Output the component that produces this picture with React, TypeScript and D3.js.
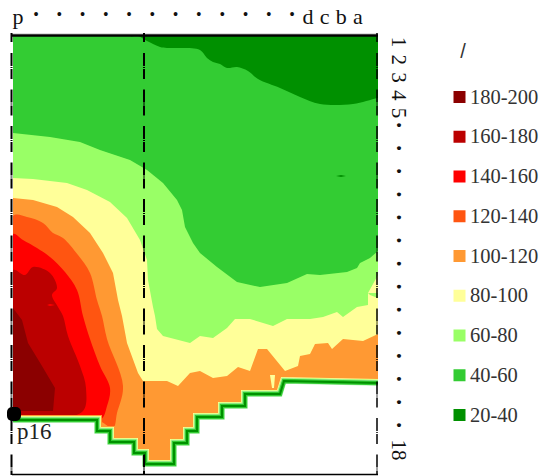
import React from "react"
import * as d3 from "d3"

type Pt = [number, number]

// readings, x along the section, y depth (same units as the frame)
const xExtent = [13, 378]
const yExtent = [36, 475]

const columnLabels = ["p", "•", "•", "•", "•", "•", "•", "•", "•", "•", "•", "•", "•", "d", "c", "b", "a"]
const rowLabels = ["1", "2", "3", "4", "5", "•", "•", "•", "•", "•", "•", "•", "•", "•", "•", "•", "•", "•", "•", "18"]
const legendLabels = ["180-200", "160-180", "140-160", "120-140", "100-120", "80-100", "60-80", "40-60", "20-40"]
const legendColors = ["#8b0000", "#bb0000", "#ff0000", "#ff5511", "#ff9933", "#ffff99", "#99ff66", "#33cc33", "#009000"]

const edge20: Pt[] = [[130, 36], [138, 36], [147, 41], [160, 47], [167, 48], [183, 48], [200, 50], [207, 58], [213, 62], [220, 64], [227, 68], [237, 67], [248, 71], [258, 79], [280, 88], [300, 97], [320, 104], [353, 104], [378, 98], [390, 96], [390, 30], [130, 30]]
const edge60: Pt[] = [[13, 133], [50, 137], [80, 142], [100, 150], [115, 155], [130, 160], [147, 170], [163, 183], [177, 200], [182, 210], [185, 227], [193, 243], [200, 253], [217, 267], [237, 282], [260, 287], [287, 283], [307, 274], [320, 275], [347, 272], [357, 268], [360, 263], [370, 258], [378, 251], [378, 475], [13, 475]]
const edge80: Pt[] = [[13, 178], [33, 179], [67, 183], [87, 190], [110, 202], [127, 218], [140, 240], [147, 260], [148, 280], [153, 307], [155, 316], [157, 329], [163, 336], [190, 343], [200, 336], [213, 338], [227, 328], [235, 319], [250, 319], [273, 326], [287, 319], [310, 319], [323, 317], [337, 312], [343, 317], [357, 307], [368, 305], [368, 293], [378, 275], [378, 475], [13, 475]]
const edge100: Pt[] = [[13, 198], [33, 200], [57, 207], [73, 217], [90, 233], [103, 253], [113, 273], [118, 300], [122, 316], [127, 343], [138, 373], [143, 381], [167, 381], [178, 386], [190, 373], [200, 371], [213, 378], [227, 376], [238, 367], [250, 371], [258, 349], [267, 349], [285, 371], [298, 366], [300, 356], [310, 354], [315, 344], [328, 343], [332, 349], [343, 339], [363, 341], [378, 334], [378, 475], [13, 475]]
const edge120: Pt[] = [[13, 216], [27, 217], [43, 223], [53, 233], [63, 238], [78, 255], [90, 273], [97, 300], [102, 316], [107, 339], [123, 386], [117, 413], [113, 428], [97, 420], [13, 420]]
const edge140: Pt[] = [[13, 234], [23, 240], [37, 248], [50, 257], [65, 272], [77, 290], [83, 316], [90, 339], [100, 366], [110, 388], [107, 406], [100, 420], [13, 420]]
const edge160: Pt[] = [[13, 270], [25, 275], [33, 267], [50, 273], [57, 288], [52, 295], [58, 307], [63, 316], [68, 336], [80, 366], [86, 388], [82, 412], [13, 412]]
const edge180: Pt[] = [[13, 308], [22, 320], [28, 343], [42, 366], [55, 388], [53, 411], [13, 411]]

// specks left over from the gridding
const speckDark: Pt[] = [[336, 176], [341, 175], [346, 176], [341, 177]]
const speckRed: Pt[] = [[47, 305], [50, 304], [55, 305], [50, 306]]
const speckYellow: Pt[] = [[270, 375], [275, 375], [274, 388], [272, 388]]
const speckGreen: Pt[] = [[368, 293], [378, 293], [378, 298], [370, 295]]

const floorEdge: Pt[] = [[13, 420], [97, 420], [97, 431], [110, 431], [110, 442], [134, 442], [134, 453], [145, 453], [145, 464], [174, 464], [174, 443], [187, 443], [187, 431], [197, 431], [197, 417], [222, 417], [222, 406], [245, 406], [245, 394], [280, 394], [284, 381], [378, 383]]

const dividers = [11.5, 144, 377]

const W = 541
const H = 476

export default function App() {
  const x = d3.scaleLinear().domain(xExtent).range([13, 378])
  const y = d3.scaleLinear().domain(yExtent).range([36, 475])
  const line = d3.line<Pt>().x(d => x(d[0])).y(d => y(d[1]))
  const smooth = d3.line<Pt>().x(d => x(d[0])).y(d => y(d[1])).curve(d3.curveCatmullRomClosed.alpha(0.5))
  const area = (pts: Pt[]) => line(pts) + "Z"

  const topPos = d3.scaleLinear().domain([0, 1, 12, 13, 16]).range([18, 36, 292, 308, 358])
  const sidePos = d3.scaleLinear().domain([0, 4, 5, 18, 19]).range([42, 113, 125, 425, 450])
  const legendPos = d3.scaleLinear().domain([0, 8]).range([97, 415])

  const floorBelow: Pt[] = [...floorEdge, [378, 475], [13, 475]]
  const serif = "'Liberation Serif', serif"

  return (
    <svg width={W} height={H} style={{ position: "absolute", left: 0, top: 0 }} fontFamily={serif}>
      <defs>
        <clipPath id="plot-clip">
          <rect x={x(13)} y={y(36)} width={x(378) - x(13)} height={y(475) - y(36)} />
        </clipPath>
      </defs>
      <g clipPath="url(#plot-clip)">
        <rect x={x(13)} y={y(36)} width={x(378) - x(13)} height={y(475) - y(36)} fill="#33cc33" />
        <path d={smooth(edge20)!} fill="#009000" />
        <path d={area(speckDark)} fill="#009000" />
        <path d={area(edge60)} fill="#99ff66" />
        <path d={area(edge80)} fill="#ffff99" />
        <path d={area(speckGreen)} fill="#99ff66" />
        <path d={area(edge100)} fill="#ff9933" />
        <path d={area(speckYellow)} fill="#ffff99" />
        <path d={smooth(edge120)!} fill="#ff5511" />
        <path d={smooth(edge140)!} fill="#ff0000" />
        <path d={smooth(edge160)!} fill="#bb0000" />
        <path d={area(speckRed)} fill="#ff0000" />
        <path d={area(edge180)} fill="#8b0000" />

        {/* the bands bunch up against the floor, drawn as nested strokes */}
        <path d={line(floorEdge)!} fill="none" stroke="#ff9933" strokeWidth={10} />
        <path d={line(floorEdge)!} fill="none" stroke="#ffff99" strokeWidth={8} />
        <path d={line(floorEdge)!} fill="none" stroke="#99ff66" strokeWidth={6.5} />
        <path d={area(floorBelow)} fill="#ffffff" />
        <path d={line(floorEdge)!} fill="none" stroke="#b5efb5" strokeWidth={5.5} />
        <path d={line(floorEdge)!} fill="none" stroke="#33cc33" strokeWidth={4.5} />
        <path d={line(floorEdge)!} fill="none" stroke="#009000" strokeWidth={2} />
      </g>

      <line x1={11} x2={378} y1={35.5} y2={35.5} stroke="#000" strokeWidth={2.5} />
      <line x1={11} x2={378} y1={33.5} y2={33.5} stroke="#ddd" strokeWidth={1} />
      <line x1={12} x2={378} y1={474.5} y2={474.5} stroke="#000" strokeWidth={1.5} />
      {dividers.map((d, i) => (
        <g key={i}>
          <line x1={d} x2={d} y1={33} y2={42} stroke="#000" strokeWidth={i === 2 ? 1.5 : 2} />
          <line x1={d} x2={d} y1={53} y2={475} stroke="#000" strokeWidth={i === 2 ? 1.5 : 2} strokeDasharray="13 1 1 1 10 10.5" />
        </g>
      ))}

      {columnLabels.map((t, i) => (
        <text key={i} x={topPos(i)} y={t === "•" ? 20 : 24} fontSize={t === "•" ? 16 : 22} textAnchor="middle" fill="#111">{t}</text>
      ))}
      {rowLabels.map((t, i) => (
        <text key={i} transform={`translate(${t === "•" ? 393 : 392},${sidePos(i)}) rotate(90)`} fontSize={t === "•" ? 16 : 21} textAnchor="middle" fill="#111">{t}</text>
      ))}

      <rect x={7} y={407} width={14} height={14} rx={5} fill="#000" />
      <text x={17} y={439} fontSize={23} fill="#222">p16</text>

      <text x={463} y={58} fontSize={20} textAnchor="middle" fontFamily="'Liberation Sans', sans-serif" fill="#333">/</text>
      {legendLabels.map((t, i) => (
        <g key={t}>
          <rect x={453.5} y={legendPos(i) - 6} width={12} height={12} fill={legendColors[i]} />
          <text x={470} y={legendPos(i) + 6.5} fontSize={20.5} fill="#333">{t}</text>
        </g>
      ))}
    </svg>
  )
}
